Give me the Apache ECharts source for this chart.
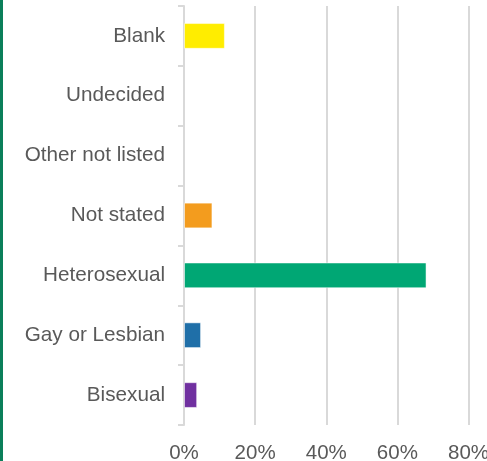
<!DOCTYPE html>
<html><head><meta charset="utf-8">
<script src="https://cdn.jsdelivr.net/npm/echarts@6/dist/echarts.min.js"></script>
<style>html,body{margin:0;padding:0;background:#fff}#c{width:487px;height:461px}</style>
</head><body><div id="c"></div>
<script>
const categories = ['Blank','Undecided','Other not listed','Not stated','Heterosexual','Gay or Lesbian','Bisexual'];
const values = [11.5, 0, 0, 8, 68.2, 4.8, 3.7];
const barColors = ['#FFED00','#FFED00','#FFED00','#F39C1E','#00A774','#1F6FA8','#7030A0'];
const xTicks = [0,20,40,60,80];

const chart = echarts.init(document.getElementById('c'), null, {renderer:'canvas'});
chart.setOption({
  animation:false,
  grid:{left:184,right:18.5,top:6,bottom:36,containLabel:false,outerBoundsMode:'none'},
  graphic:[{type:'rect',shape:{x:0,y:0,width:3,height:461},style:{fill:'#0B7F5A'}}],
  xAxis:{type:'value',min:xTicks[0],max:xTicks[xTicks.length-1],interval:20,
    axisLine:{show:false},axisTick:{show:false},
    splitLine:{show:true,lineStyle:{color:'#D9D9D9',width:2}},
    axisLabel:{formatter:v=>v+'%',color:'#595959',fontSize:20.5,fontFamily:'Liberation Sans, Arial',margin:17.5}},
  yAxis:{type:'category',data:categories,inverse:true,
    axisLine:{show:true,lineStyle:{color:'#D9D9D9',width:2}},
    axisTick:{show:true,length:6,lineStyle:{color:'#D9D9D9',width:2}},
    axisLabel:{color:'#595959',fontSize:20.7,fontFamily:'Liberation Sans, Arial',margin:19}},
  series:[{type:'bar',barWidth:'43%',
    data:values.map((v,i)=>({value:v,itemStyle:{color:barColors[i],borderColor:'rgba(255,255,255,0.5)',borderWidth:v>0?1:0}}))}]
});
</script></body></html>
